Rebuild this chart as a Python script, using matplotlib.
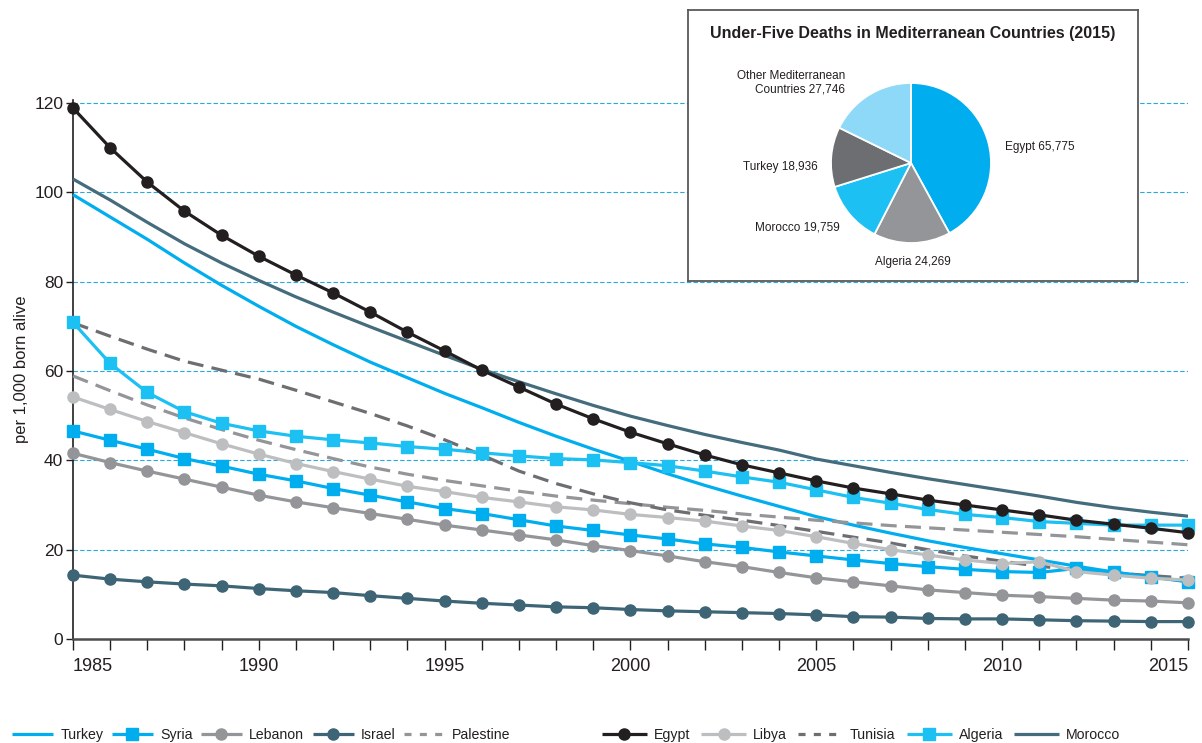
import numpy as np
import matplotlib
matplotlib.use('Agg')
import matplotlib.pyplot as plt
from matplotlib.lines import Line2D

plt.rcParams['font.family'] = ['Liberation Sans', 'DejaVu Sans']
TXT = '#231f20'

# ------------------------------------------------------------------ #
# Data: under-five mortality, per 1,000 born alive
# ------------------------------------------------------------------ #
years = list(range(1985, 2016))

turkey = [99.5, 94.5, 89.5, 84.2, 79.2, 74.5, 70.0, 65.9, 62.0, 58.5, 55.0,
          51.8, 48.5, 45.4, 42.5, 39.8, 37.0, 34.4, 32.0, 29.7, 27.4, 25.5,
          23.7, 22.0, 20.5, 19.1, 17.7, 16.3, 15.0, 13.9, 12.9]
syria = [46.6, 44.5, 42.5, 40.4, 38.7, 36.9, 35.4, 33.7, 32.2, 30.7, 29.2,
         28.1, 26.7, 25.3, 24.3, 23.3, 22.4, 21.3, 20.5, 19.5, 18.6, 17.7,
         16.9, 16.2, 15.6, 15.1, 14.9, 15.8, 14.9, 13.9, 12.8]
lebanon = [41.6, 39.5, 37.6, 35.8, 34.0, 32.2, 30.7, 29.4, 28.1, 26.8, 25.5,
           24.4, 23.3, 22.2, 20.9, 19.8, 18.6, 17.3, 16.2, 14.9, 13.7, 12.8,
           11.9, 11.0, 10.4, 9.8, 9.5, 9.1, 8.7, 8.5, 8.1]
israel = [14.3, 13.4, 12.8, 12.3, 11.9, 11.3, 10.8, 10.4, 9.7, 9.1, 8.5,
          8.0, 7.6, 7.2, 7.0, 6.6, 6.3, 6.1, 5.9, 5.7, 5.4, 5.0,
          4.9, 4.6, 4.5, 4.5, 4.3, 4.1, 4.0, 3.9, 3.9]
palestine = [58.9, 55.6, 52.4, 49.5, 46.9, 44.5, 42.4, 40.4, 38.5, 36.9, 35.5,
             34.3, 33.1, 32.0, 31.1, 30.3, 29.5, 28.8, 28.0, 27.3, 26.6, 26.0,
             25.4, 24.9, 24.4, 23.9, 23.4, 22.9, 22.3, 21.7, 21.1]
egypt = [118.9, 110.0, 102.3, 95.8, 90.4, 85.7, 81.5, 77.5, 73.2, 68.7, 64.5,
         60.2, 56.4, 52.6, 49.3, 46.3, 43.7, 41.2, 39.0, 37.2, 35.4, 33.8,
         32.5, 31.1, 30.0, 28.9, 27.8, 26.6, 25.7, 24.8, 23.8]
libya = [54.2, 51.4, 48.7, 46.2, 43.7, 41.4, 39.3, 37.5, 35.8, 34.2, 33.0,
         31.7, 30.7, 29.6, 28.9, 27.9, 27.2, 26.4, 25.3, 24.3, 22.9, 21.4,
         20.0, 18.8, 17.7, 16.9, 17.3, 15.1, 14.3, 13.6, 13.2]
tunisia = [70.8, 67.8, 64.9, 62.2, 60.2, 58.2, 55.7, 53.1, 50.5, 47.7, 44.6,
           41.2, 37.6, 34.8, 32.5, 30.5, 28.9, 27.7, 26.6, 25.4, 24.1, 22.8,
           21.5, 20.0, 18.6, 17.4, 16.3, 15.5, 14.8, 14.2, 13.6]
algeria = [70.9, 61.7, 55.2, 50.9, 48.3, 46.6, 45.4, 44.6, 43.9, 43.1, 42.5,
           41.7, 41.0, 40.4, 40.1, 39.5, 38.8, 37.6, 36.3, 35.1, 33.4, 31.7,
           30.4, 29.0, 27.9, 27.2, 26.3, 25.9, 25.5, 25.5, 25.5]
morocco = [103.0, 98.3, 93.3, 88.5, 84.2, 80.3, 76.6, 73.2, 69.9, 66.7, 63.5,
           60.4, 57.6, 54.9, 52.3, 49.9, 47.8, 45.8, 44.0, 42.3, 40.3, 38.8,
           37.3, 35.9, 34.6, 33.3, 32.0, 30.6, 29.4, 28.4, 27.5]

# pie: under-five deaths 2015
pie_names = ['Egypt', 'Algeria', 'Morocco', 'Turkey',
             'Other Mediterranean\nCountries']
pie_values = [65775, 24269, 19759, 18936, 27746]

# ------------------------------------------------------------------ #
# Styles: (name, values, colour, marker, linestyle, zorder)
# ------------------------------------------------------------------ #
BLUE = '#00aeef'
CYAN = '#1cc0f2'
GREY = '#939598'
LGREY = '#bcbec0'
DGREY = '#6d6e71'
SLATE = '#3e6575'
SLATE2 = '#456c7c'
BLACK = '#231f20'

series = [
    ('Turkey', turkey, BLUE, None, '-', 3),
    ('Syria', syria, BLUE, 's', '-', 4),
    ('Lebanon', lebanon, GREY, 'o', '-', 4),
    ('Israel', israel, SLATE, 'o', '-', 4),
    ('Palestine', palestine, GREY, None, '--', 3),
    ('Egypt', egypt, BLACK, 'o', '-', 6),
    ('Libya', libya, LGREY, 'o', '-', 4),
    ('Tunisia', tunisia, DGREY, None, '--', 3),
    ('Algeria', algeria, CYAN, 's', '-', 5),
    ('Morocco', morocco, SLATE2, None, '-', 3),
]

fig = plt.figure(figsize=(12.02, 7.43), dpi=100)
ax = fig.add_axes([73 / 1202, 1 - 639 / 743, 1115 / 1202, 539 / 743])

for name, vals, col, mk, ls, z in series:
    ms = 8.5 if mk == 's' else 8
    line, = ax.plot(years, vals, color=col, lw=2.3, linestyle=ls,
                    marker=mk, ms=ms, mec=col, mfc=col, zorder=z,
                    clip_on=False, solid_capstyle='butt')
    if ls == '--':
        line.set_dashes((5, 2.6))

ax.set_xlim(1985, 2015)
ax.set_ylim(0, 120.7)
ax.set_yticks(range(0, 121, 20))
ax.set_xticks(range(1985, 2016, 5))
ax.set_xticks(years, minor=True)
ax.yaxis.grid(True, color='#27aae1', lw=0.8, linestyle=(0, (4, 2)))
ax.set_axisbelow(True)

for s in ('top', 'right'):
    ax.spines[s].set_visible(False)
ax.spines['left'].set_color(TXT)
ax.spines['left'].set_linewidth(1.2)
ax.spines['bottom'].set_color('#4d4d4f')
ax.spines['bottom'].set_linewidth(1.8)

ax.tick_params(axis='x', which='both', direction='out', length=8, width=1,
               color=TXT, labelsize=13, labelcolor=TXT, pad=6)
ax.tick_params(axis='y', direction='out', length=5, width=1, color=TXT,
               labelsize=12.5, labelcolor=TXT, pad=2)
xlabels = ax.get_xticklabels()
xlabels[0].set_ha('left')
xlabels[-1].set_ha('right')
ax.set_ylabel('per 1,000 born alive', fontsize=12, color=TXT, labelpad=4)

# ------------------------------------------------------------------ #
# Legend: two groups of five along the bottom edge
# ------------------------------------------------------------------ #
handles = []
for name, vals, col, mk, ls, z in series:
    h = Line2D([], [], color=col, lw=2.3, linestyle=ls, marker=mk,
               ms=8.5 if mk == 's' else 8, mec=col, mfc=col,
               solid_capstyle='butt', label=name)
    if ls == '--':
        h.set_dashes((2.2, 2.6))
    handles.append(h)

leg_kw = dict(loc='center left', ncol=5, frameon=False, fontsize=10.2,
              handletextpad=0.5, borderpad=0, borderaxespad=0, numpoints=1,
              labelcolor=TXT)
fig.legend(handles=handles[:5], bbox_to_anchor=(12 / 1202, 8 / 743),
           handlelength=2.9, columnspacing=0.6, **leg_kw)
fig.legend(handles=handles[5:], bbox_to_anchor=(602 / 1202, 8 / 743),
           handlelength=3.15, columnspacing=0.8, **leg_kw)

# ------------------------------------------------------------------ #
# Inset: pie of under-five deaths (2015)
# ------------------------------------------------------------------ #
box = fig.add_axes([688 / 1202, 1 - 281 / 743, 450 / 1202, 271 / 743])
box.set_xticks([])
box.set_yticks([])
box.set_facecolor('white')
for s in box.spines.values():
    s.set_color('#58595b')
    s.set_linewidth(1.3)
box.text(0.5, 0.915, 'Under-Five Deaths in Mediterranean Countries (2015)',
         transform=box.transAxes, ha='center', va='center',
         fontsize=11.5, fontweight='bold', color=TXT)

pax = fig.add_axes([811 / 1202, 1 - 263 / 743, 200 / 1202, 200 / 743])
pie_labels = [f'{n} {v:,}' for n, v in zip(pie_names, pie_values)]
pie_colors = [BLUE, GREY, CYAN, DGREY, '#8ed8f8']
wedges, texts = pax.pie(pie_values, labels=pie_labels, colors=pie_colors,
                        startangle=90, counterclock=False, labeldistance=1.19,
                        wedgeprops=dict(edgecolor='white', linewidth=1.3),
                        textprops=dict(fontsize=8.5, color=TXT))
# nudge labels to where the original places them
texts[0].set_position((1.17, 0.2))
texts[1].set_ha('center')
texts[1].set_position((0.02, -1.24))
texts[2].set_position((-0.89, -0.8))
texts[3].set_position((-1.17, -0.05))
texts[4].set_position((-0.82, 1.0))
pax.set_aspect('equal')

fig.savefig('out.png', dpi=100)
